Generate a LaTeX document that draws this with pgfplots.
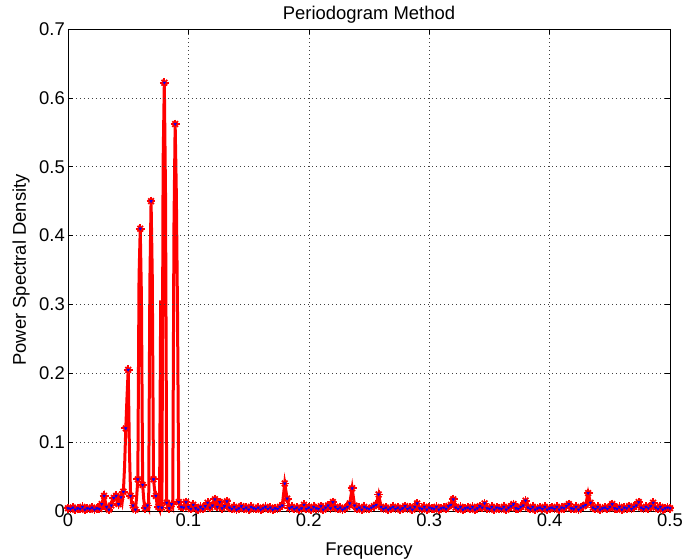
\documentclass[border=0pt]{standalone}
\usepackage{pgfplots}
\pgfplotsset{compat=1.18}
\usepackage{pgfplotstable}
\usepackage{fontspec}
\setmainfont{Liberation Sans}

\pgfplotstableread{
f p m
0.000 0.004 1
0.002 0.003 1
0.004 0.005 1
0.006 0.002 1
0.008 0.004 1
0.010 0.003 1
0.012 0.006 1
0.014 0.002 1
0.016 0.004 1
0.018 0.003 1
0.020 0.005 1
0.022 0.002 1
0.024 0.004 1
0.026 0.003 1
0.028 0.010 1
0.030 0.022 1
0.032 0.006 1
0.034 0.002 1
0.036 0.008 1
0.038 0.019 1
0.040 0.022 1
0.041 0.015 0
0.042 0.010 1
0.043 0.017 0
0.044 0.020 1
0.045 0.013 0
0.046 0.028 1
0.047 0.065 0
0.048 0.120 1
0.049 0.165 0
0.050 0.205 1
0.051 0.090 0
0.052 0.022 1
0.053 0.012 0
0.054 0.008 1
0.055 0.004 0
0.056 0.002 1
0.057 0.020 0
0.058 0.046 1
0.059 0.340 0
0.060 0.410 1
0.061 0.310 0
0.062 0.038 1
0.063 0.015 0
0.064 0.004 1
0.065 0.003 0
0.066 0.008 1
0.067 0.004 0
0.068 0.333 0
0.069 0.450 1
0.070 0.341 0
0.071 0.046 1
0.072 0.030 0
0.073 0.022 1
0.074 0.010 0
0.075 0.006 1
0.076 0.002 0
0.077 0.306 0
0.078 0.005 1
0.079 0.507 0
0.080 0.622 1
0.081 0.459 0
0.082 0.012 1
0.083 0.008 0
0.084 0.004 1
0.085 0.006 0
0.086 0.010 1
0.087 0.006 0
0.088 0.413 0
0.089 0.562 1
0.090 0.459 0
0.091 0.280 0
0.092 0.013 1
0.093 0.008 0
0.094 0.006 1
0.095 0.003 0
0.096 0.005 1
0.098 0.013 1
0.100 0.006 1
0.102 0.003 1
0.104 0.009 1
0.106 0.004 1
0.108 0.002 1
0.110 0.006 1
0.112 0.003 1
0.114 0.007 1
0.116 0.012 1
0.118 0.005 1
0.120 0.008 1
0.122 0.017 1
0.124 0.006 1
0.126 0.013 1
0.128 0.004 1
0.130 0.007 1
0.132 0.014 1
0.134 0.005 1
0.136 0.003 1
0.138 0.006 1
0.140 0.002 1
0.142 0.004 1
0.144 0.007 1
0.146 0.003 1
0.148 0.005 1
0.150 0.002 1
0.152 0.006 1
0.154 0.004 1
0.156 0.003 1
0.158 0.005 1
0.160 0.002 1
0.162 0.004 1
0.164 0.006 1
0.166 0.003 1
0.168 0.005 1
0.170 0.002 1
0.172 0.004 1
0.174 0.003 1
0.176 0.006 1
0.178 0.008 1
0.180 0.040 1
0.182 0.018 1
0.184 0.004 1
0.186 0.006 1
0.188 0.003 1
0.190 0.005 1
0.192 0.002 1
0.194 0.004 1
0.196 0.009 1
0.198 0.003 1
0.200 0.005 1
0.202 0.002 1
0.204 0.006 1
0.206 0.004 1
0.208 0.003 1
0.210 0.007 1
0.212 0.002 1
0.214 0.005 1
0.216 0.008 1
0.218 0.004 1
0.220 0.013 1
0.222 0.006 1
0.224 0.003 1
0.226 0.005 1
0.228 0.002 1
0.230 0.004 1
0.232 0.006 1
0.234 0.011 1
0.236 0.033 1
0.238 0.008 1
0.240 0.003 1
0.242 0.005 1
0.244 0.002 1
0.246 0.006 1
0.248 0.004 1
0.250 0.003 1
0.252 0.005 1
0.254 0.007 1
0.256 0.009 1
0.258 0.024 1
0.260 0.006 1
0.262 0.003 1
0.264 0.005 1
0.266 0.002 1
0.268 0.004 1
0.270 0.006 1
0.272 0.003 1
0.274 0.005 1
0.276 0.002 1
0.278 0.004 1
0.280 0.007 1
0.282 0.003 1
0.284 0.005 1
0.286 0.002 1
0.288 0.006 1
0.290 0.011 1
0.292 0.004 1
0.294 0.003 1
0.296 0.006 1
0.298 0.002 1
0.300 0.005 1
0.302 0.004 1
0.304 0.003 1
0.306 0.006 1
0.308 0.002 1
0.310 0.004 1
0.312 0.005 1
0.314 0.003 1
0.316 0.007 1
0.318 0.009 1
0.320 0.017 1
0.322 0.005 1
0.324 0.003 1
0.326 0.006 1
0.328 0.002 1
0.330 0.004 1
0.332 0.005 1
0.334 0.003 1
0.336 0.006 1
0.338 0.002 1
0.340 0.004 1
0.342 0.007 1
0.344 0.005 1
0.346 0.011 1
0.348 0.004 1
0.350 0.003 1
0.352 0.006 1
0.354 0.002 1
0.356 0.005 1
0.358 0.004 1
0.360 0.003 1
0.362 0.006 1
0.364 0.002 1
0.366 0.005 1
0.368 0.007 1
0.370 0.010 1
0.372 0.004 1
0.374 0.003 1
0.376 0.006 1
0.378 0.008 1
0.380 0.015 1
0.382 0.005 1
0.384 0.003 1
0.386 0.006 1
0.388 0.002 1
0.390 0.004 1
0.392 0.005 1
0.394 0.003 1
0.396 0.006 1
0.398 0.002 1
0.400 0.004 1
0.402 0.005 1
0.404 0.003 1
0.406 0.006 1
0.408 0.002 1
0.410 0.005 1
0.412 0.004 1
0.414 0.007 1
0.416 0.010 1
0.418 0.004 1
0.420 0.003 1
0.422 0.006 1
0.424 0.002 1
0.426 0.005 1
0.428 0.007 1
0.430 0.009 1
0.432 0.026 1
0.434 0.012 1
0.436 0.005 1
0.438 0.003 1
0.440 0.006 1
0.442 0.002 1
0.444 0.004 1
0.446 0.005 1
0.448 0.003 1
0.450 0.006 1
0.452 0.010 1
0.454 0.004 1
0.456 0.003 1
0.458 0.006 1
0.460 0.002 1
0.462 0.005 1
0.464 0.004 1
0.466 0.007 1
0.468 0.003 1
0.470 0.006 1
0.472 0.008 1
0.474 0.013 1
0.476 0.005 1
0.478 0.003 1
0.480 0.006 1
0.482 0.004 1
0.484 0.007 1
0.486 0.012 1
0.488 0.005 1
0.490 0.003 1
0.492 0.006 1
0.494 0.002 1
0.496 0.004 1
0.498 0.005 1
0.500 0.004 1
}\psd

\begin{document}
\begin{tikzpicture}
\path[use as bounding box] (-68bp,-48bp) rectangle (615bp,511bp);
\begin{axis}[
  at={(0,0)}, anchor=south west,
  scale only axis, width=602bp, height=482bp,
  xmin=0, xmax=0.5, ymin=0, ymax=0.7,
  xtick={0,0.1,0.2,0.3,0.4,0.5},
  ytick={0,0.1,0.2,0.3,0.4,0.5,0.6,0.7},
  /pgf/number format/assume math mode=true,
  /pgf/number format/fixed,
  tick label style={font=\fontsize{18.5}{21}\selectfont, black},
  xticklabel style={inner sep=2bp},
  yticklabel style={inner sep=3bp},
  label style={font=\fontsize{18.5}{21}\selectfont},
  tick align=inside, major tick length=5bp,
  tick style={black, line width=0.6bp},
  axis line style={black, line width=0.8bp},
  grid=major,
  major grid style={black!75, line width=0.6bp, dash pattern=on 1bp off 3bp},
  title={Periodogram Method},
  title style={at={(axis description cs:0.5,1.008)}, anchor=base, font=\fontsize{18.5}{21}\selectfont},
  xlabel={Frequency},
  xlabel style={at={(axis description cs:0.5,-0.0913)}, anchor=base},
  ylabel={Power Spectral Density},
  ylabel style={at={(axis description cs:-0.0698,0.5)}, anchor=base},
  clip=false,
  axis on top,
]
\addplot[red, line width=3bp, no markers] table[x=f, y=p] {\psd};
\addplot[only marks, mark=+, mark size=4.4bp, mark options={red, line width=1.8bp},
  restrict expr to domain={\thisrow{m}}{0.5:1.5}] table[x=f, y=p] {\psd};
\addplot[only marks, mark=x, mark size=4.0bp, mark options={red, line width=1.8bp},
  restrict expr to domain={\thisrow{m}}{0.5:1.5}] table[x=f, y=p] {\psd};
\addplot[only marks, mark=triangle*, mark size=1.5bp, mark options={blue, fill=blue, rotate=180},
  restrict expr to domain={\thisrow{m}}{0.5:1.5}] table[x=f, y=p] {\psd};
\end{axis}
\end{tikzpicture}
\end{document}
